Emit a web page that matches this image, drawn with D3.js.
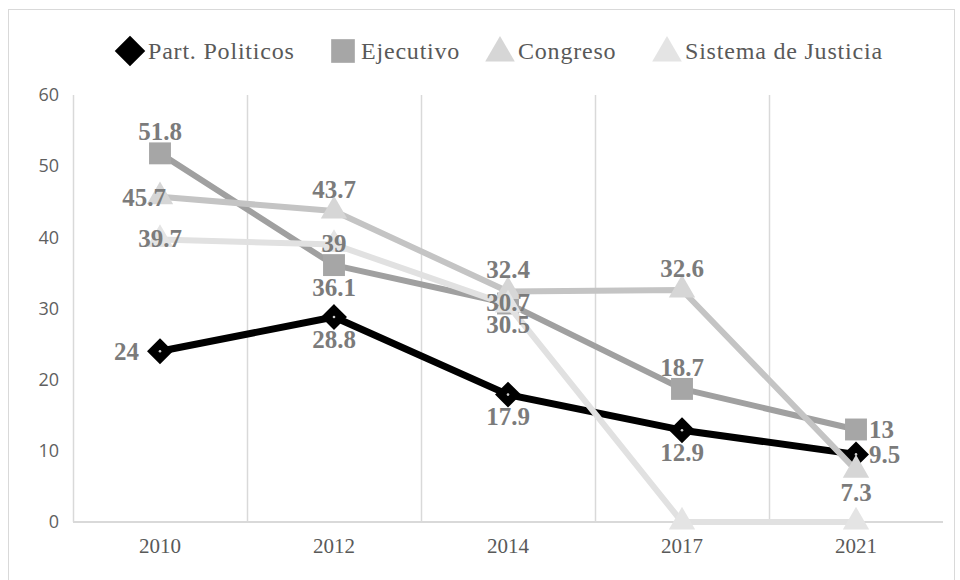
<!DOCTYPE html>
<html>
<head>
<meta charset="utf-8">
<script src="https://cdn.jsdelivr.net/npm/d3@7"></script>
<style>
  body { margin: 0; background: #fff; }
  svg { display: block; }
</style>
</head>
<body>
<div id="chart"></div>
<script>
var width = 960,
    height = 580;

var margin = { top: 95, right: 17, bottom: 58, left: 73 };

// data
var years = ["2010", "2012", "2014", "2017", "2021"];
var seriesNames = ["Part. Politicos", "Ejecutivo", "Congreso", "Sistema de Justicia"];
var partidos = [24, 28.8, 17.9, 12.9, 9.5];
var ejecutivo = [51.8, 36.1, 30.7, 18.7, 13];
var congreso = [45.7, 43.7, 32.4, 32.6, 7.3];
var justicia = [39.7, 39, 30.5, 0, 0];
var yTicks = [0, 10, 20, 30, 40, 50, 60];

var values = [partidos, ejecutivo, congreso, justicia];

// styling per series
var lineColor = ["#000000", "#a0a0a0", "#c4c4c4", "#e1e1e1"];
var markColor = ["#000000", "#a6a6a6", "#d6d6d6", "#e4e4e4"];
var lineWidth = [7, 6, 6, 6];
var markType = ["diamond", "square", "triangle", "triangle"];
var labelPos = [
  ["left", "below", "below", "below", "right"],
  ["above", "below", "center", "above", "right"],
  ["leftin", "above", "above", "above", "below"],
  ["center", "center", "belowin", null, null]
];

var svg = d3.select("#chart").append("svg")
    .attr("width", width)
    .attr("height", height);

// outer chart frame
svg.append("rect")
    .attr("x", 8.5).attr("y", 9.5)
    .attr("width", 946).attr("height", 600)
    .attr("fill", "none")
    .attr("stroke", "#d9d9d9");

var plotW = width - margin.left - margin.right,
    plotH = height - margin.top - margin.bottom;

var x = d3.scaleBand().domain(years).range([0, plotW]);
var y = d3.scaleLinear().domain([0, 60]).range([plotH, 0]);

var g = svg.append("g").attr("transform", "translate(" + margin.left + "," + margin.top + ")");

// vertical gridlines at category boundaries
var bounds = years.map(function(d) { return x(d); });
g.selectAll(".vgrid").data(bounds).enter().append("line")
    .attr("x1", function(d) { return d + 0.5; })
    .attr("x2", function(d) { return d + 0.5; })
    .attr("y1", 0).attr("y2", plotH)
    .attr("stroke", "#d9d9d9").attr("stroke-width", 1.5);

// x axis baseline
g.append("line")
    .attr("x1", 0).attr("x2", plotW)
    .attr("y1", y(0)).attr("y2", y(0))
    .attr("stroke", "#d9d9d9").attr("stroke-width", 2);

// y axis labels
var yAxis = g.append("g")
    .call(d3.axisLeft(y).tickValues(yTicks).tickSize(0).tickPadding(14));
yAxis.select(".domain").remove();
yAxis.selectAll("text")
    .attr("fill", "#5f5f5f")
    .style("font-family", "'Open Sans', sans-serif")
    .style("font-size", "18px");

// x axis labels
var xAxis = g.append("g")
    .attr("transform", "translate(0," + plotH + ")")
    .call(d3.axisBottom(x).tickSize(0).tickPadding(16));
xAxis.select(".domain").remove();
xAxis.selectAll("text")
    .attr("fill", "#595959")
    .style("font-family", "'Liberation Serif', serif")
    .style("font-size", "21px");

var cx = function(i) { return x(years[i]) + x.bandwidth() / 2; };

var line = d3.line()
    .x(function(d, i) { return cx(i); })
    .y(function(d) { return y(d); });

var symbolOf = {
  diamond: d3.symbol().type(d3.symbolDiamond2).size(300),
  square: d3.symbol().type(d3.symbolSquare).size(480),
  triangle: d3.symbol().type(d3.symbolTriangle).size(300)
};
var legendSymbol = {
  diamond: d3.symbol().type(d3.symbolDiamond2).size(440),
  square: d3.symbol().type(d3.symbolSquare).size(560),
  triangle: d3.symbol().type(d3.symbolTriangle).size(380)
};

values.forEach(function(vals, s) {
  var sg = g.append("g");
  sg.append("path")
      .datum(vals)
      .attr("fill", "none")
      .attr("stroke", lineColor[s])
      .attr("stroke-width", lineWidth[s])
      .attr("stroke-linejoin", "round")
      .attr("d", line);

  sg.selectAll(".mark").data(vals).enter().append("path")
      .attr("transform", function(d, i) { return "translate(" + cx(i) + "," + y(d) + ")"; })
      .attr("d", symbolOf[markType[s]])
      .attr("fill", markColor[s])
      .attr("stroke", s === 0 ? "#000" : "none")
      .attr("stroke-width", 3);

  if (s === 0) {
    sg.selectAll(".dot").data(vals).enter().append("circle")
        .attr("cx", function(d, i) { return cx(i); })
        .attr("cy", function(d) { return y(d); })
        .attr("r", 1.3)
        .attr("fill", "#cfcfcf");
  }
});

// data labels
var off = {
  above: [0, -22, "middle"],
  below: [0, 22, "middle"],
  belowin: [0, 19, "middle"],
  left: [-21, 0, "end"],
  leftin: [6, 0, "end"],
  right: [13, 0, "start"],
  center: [0, -1, "middle"]
};

values.forEach(function(vals, s) {
  vals.forEach(function(v, i) {
    var p = labelPos[s][i];
    if (!p) return;
    var o = off[p];
    g.append("text")
        .attr("x", cx(i) + o[0])
        .attr("y", y(v) + o[1])
        .attr("dy", "0.35em")
        .attr("text-anchor", o[2])
        .attr("fill", "#7b7b7b")
        .style("font-family", "'Liberation Serif', serif")
        .style("font-weight", "bold")
        .style("font-size", "25px")
        .text(v);
  });
});

// legend
var legendX = [130, 343, 500, 667];
var legend = svg.append("g").attr("transform", "translate(0,51)");
seriesNames.forEach(function(name, s) {
  legend.append("path")
      .attr("transform", "translate(" + legendX[s] + "," + (markType[s] === "triangle" ? 2 : 0) + ")")
      .attr("d", legendSymbol[markType[s]])
      .attr("fill", markColor[s])
      .attr("stroke", s === 0 ? "#000" : "none")
      .attr("stroke-width", 3);
  legend.append("text")
      .attr("x", legendX[s] + 18)
      .attr("y", 0)
      .attr("dy", "0.35em")
      .attr("fill", "#595959")
      .style("font-family", "'Liberation Serif', serif")
      .style("font-size", "24px")
      .style("letter-spacing", "0.8px")
      .text(name);
});
</script>
</body>
</html>
